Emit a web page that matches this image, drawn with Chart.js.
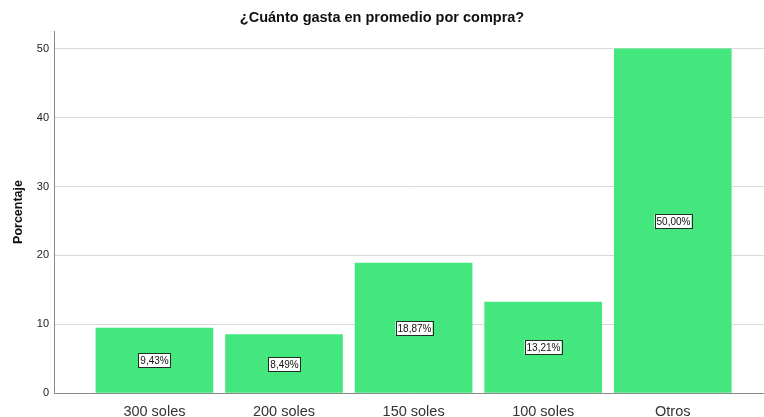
<!DOCTYPE html>
<html>
<head>
<meta charset="utf-8">
<script src="https://cdn.jsdelivr.net/npm/chart.js@4/dist/chart.umd.min.js"></script>
<style>
  html, body { margin: 0; padding: 0; background: #fff; }
  #wrap { width: 764px; height: 417px; }
</style>
</head>
<body>
<div id="wrap"><canvas id="gastoChart"></canvas></div>
<script>
// Gasto promedio por compra (porcentaje)
const categorias = ['300 soles', '200 soles', '150 soles', '100 soles', 'Otros'];
const porcentajes = [9.43, 8.49, 18.87, 13.21, 50.00];
const yTicks = [0, 10, 20, 30, 40, 50];

const FONT = '"Liberation Sans", Arial, sans-serif';

// etiqueta en recuadro blanco en el centro de cada barra
const valueBoxes = {
    id: 'valueBoxes',
    afterDatasetsDraw(chart) {
        const ctx = chart.ctx;
        const meta = chart.getDatasetMeta(0);
        ctx.save();
        ctx.font = '10px ' + FONT;
        ctx.textAlign = 'center';
        ctx.textBaseline = 'middle';
        meta.data.forEach((bar, i) => {
            const txt = porcentajes[i].toFixed(2).replace('.', ',') + '%';
            const cy = Math.round((bar.y + bar.base) / 2);
            const cx = Math.round(bar.x);
            const w = Math.ceil(ctx.measureText(txt).width) + 3;
            const h = 14;
            ctx.fillStyle = '#ffffff';
            ctx.fillRect(cx - w / 2, cy - h / 2, w, h);
            ctx.strokeStyle = '#1f2f22';
            ctx.lineWidth = 1;
            ctx.strokeRect(Math.round(cx - w / 2) + 0.5, cy - h / 2 + 0.5, w, h);
            ctx.fillStyle = '#111111';
            ctx.fillText(txt, cx + 0.5, cy + 1);
        });
        ctx.restore();
    }
};

new Chart(document.getElementById('gastoChart').getContext('2d'), {
    type: 'bar',
    data: {
        datasets: [{
            data: porcentajes.map((v, i) => ({ x: i, y: v })),
            backgroundColor: '#43E77D',
            borderWidth: 0,
            barThickness: 117
        }]
    },
    options: {
        responsive: true,
        maintainAspectRatio: false,
        animation: false,
        layout: { padding: { left: 0, right: 0, top: 0, bottom: 0 } },
        plugins: {
            legend: { display: false },
            tooltip: { enabled: false },
            title: {
                display: true,
                text: '¿Cuánto gasta en promedio por compra?',
                color: '#111',
                font: { family: FONT, size: 14.5, weight: 'bold' },
                padding: { top: 9, bottom: 4.6 }
            }
        },
        scales: {
            x: {
                type: 'linear',
                offset: false,
                min: -0.775,
                max: 4.704,
                grid: { display: false },
                border: { display: true, color: '#8a8a8a', width: 1 },
                afterBuildTicks(scale) {
                    scale.ticks = categorias.map((c, i) => ({ value: i }));
                },
                afterFit(scale) { scale.height = 24; },
                ticks: {
                    padding: 2,
                    color: '#333',
                    font: { family: FONT, size: 14.5 },
                    callback: (v) => categorias[v]
                }
            },
            y: {
                min: 0,
                max: 52.6,
                afterBuildTicks(scale) {
                    scale.ticks = yTicks.map(v => ({ value: v }));
                },
                afterFit(scale) { scale.width = 54; },
                grid: { color: '#d9d9d9', lineWidth: 1, drawTicks: false },
                border: { display: true, color: '#8a8a8a', width: 1 },
                ticks: {
                    padding: 5,
                    color: '#222',
                    font: { family: FONT, size: 11 }
                },
                title: {
                    display: true,
                    text: 'Porcentaje',
                    color: '#111',
                    font: { family: FONT, size: 12.5, weight: 'bold' },
                    padding: { top: 11, bottom: 0 }
                }
            }
        }
    },
    plugins: [valueBoxes]
});
</script>
</body>
</html>
